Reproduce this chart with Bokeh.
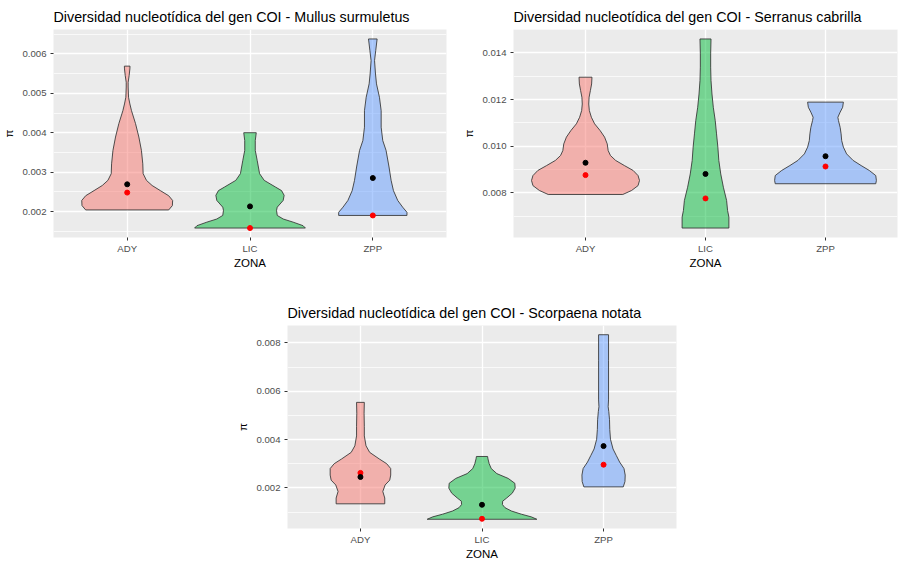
from bokeh.plotting import figure
from bokeh.layouts import column, row, Spacer
from bokeh.models import FixedTicker, Range1d, NumeralTickFormatter
from bokeh.embed import file_html
from bokeh.resources import INLINE

categories = ["ADY", "LIC", "ZPP"]

# ---- Mullus surmuletus ----
mullus_title = "Diversidad nucleotídica del gen COI - Mullus surmuletus"
mullus_ady_y = [0.00204, 0.00215, 0.00228, 0.0024, 0.00253, 0.00266, 0.00279, 0.00296, 0.00321, 0.00355,
                0.00389, 0.00423, 0.00456, 0.00473, 0.0049, 0.00516, 0.00528, 0.00545, 0.00562, 0.00569]
mullus_ady_w = [0.338, 0.368, 0.370, 0.338, 0.270, 0.203, 0.157, 0.130, 0.127, 0.116,
                0.095, 0.068, 0.035, 0.022, 0.011, 0.008, 0.008, 0.016, 0.022, 0.023]
mullus_lic_y = [0.00158, 0.00164, 0.00173, 0.00181, 0.0019, 0.00203, 0.00211, 0.00228, 0.00241, 0.00253,
                0.00262, 0.00279, 0.00296, 0.00329, 0.00355, 0.0038, 0.004]
mullus_lic_w = [0.451, 0.432, 0.351, 0.270, 0.222, 0.216, 0.222, 0.270, 0.278, 0.257,
                0.208, 0.116, 0.078, 0.059, 0.043, 0.043, 0.051]
mullus_zpp_y = [0.0019, 0.00198, 0.00211, 0.00228, 0.00253, 0.00279, 0.00313, 0.00355, 0.0038, 0.00414,
                0.00456, 0.0049, 0.00524, 0.00549, 0.00583, 0.00609, 0.00638]
mullus_zpp_w = [0.278, 0.278, 0.243, 0.203, 0.168, 0.149, 0.132, 0.108, 0.081, 0.068,
                0.068, 0.054, 0.030, 0.022, 0.014, 0.024, 0.035]
mullus_mean = [0.00269, 0.00213, 0.00285]
mullus_median = [0.00248, 0.00158, 0.0019]
mullus_ticks = [0.002, 0.003, 0.004, 0.005, 0.006]

# ---- Serranus cabrilla ----
serranus_title = "Diversidad nucleotídica del gen COI - Serranus cabrilla"
serranus_ady_y = [0.00793, 0.0081, 0.00831, 0.00853, 0.00874, 0.00896, 0.00917, 0.00939, 0.0096, 0.00981,
                  0.0101, 0.01039, 0.01067, 0.01096, 0.01124, 0.01153, 0.01181, 0.0121, 0.01239, 0.01267, 0.01296]
serranus_ady_w = [0.311, 0.384, 0.438, 0.450, 0.438, 0.397, 0.324, 0.251, 0.208, 0.189,
                  0.181, 0.159, 0.122, 0.076, 0.049, 0.032, 0.027, 0.030, 0.041, 0.051, 0.054]
serranus_lic_y = [0.00649, 0.00696, 0.00724, 0.00767, 0.00824, 0.00881, 0.00939, 0.00996, 0.01053, 0.0111,
                  0.01167, 0.01224, 0.01281, 0.01339, 0.01396, 0.0146]
serranus_lic_w = [0.195, 0.195, 0.184, 0.176, 0.149, 0.127, 0.111, 0.103, 0.092, 0.081,
                  0.065, 0.054, 0.046, 0.043, 0.043, 0.046]
serranus_zpp_y = [0.00839, 0.00853, 0.00874, 0.00896, 0.00917, 0.00939, 0.00967, 0.00996, 0.01024, 0.01053,
                  0.01081, 0.0111, 0.01124, 0.01146, 0.01167, 0.01189]
serranus_zpp_w = [0.419, 0.424, 0.419, 0.365, 0.297, 0.230, 0.176, 0.149, 0.135, 0.130,
                  0.122, 0.108, 0.103, 0.122, 0.143, 0.149]
serranus_mean = [0.00929, 0.00881, 0.00957]
serranus_median = [0.00876, 0.00776, 0.00913]
serranus_ticks = [0.008, 0.010, 0.012, 0.014]

# ---- Scorpaena notata ----
scorpaena_title = "Diversidad nucleotídica del gen COI - Scorpaena notata"
scorpaena_ady_y = [0.00134, 0.00158, 0.00185, 0.00212, 0.00232, 0.00253, 0.0028, 0.003, 0.0032, 0.00347,
                   0.00374, 0.00415, 0.00455, 0.00509, 0.00554]
scorpaena_ady_w = [0.200, 0.200, 0.184, 0.203, 0.241, 0.249, 0.249, 0.216, 0.154, 0.076,
                   0.046, 0.032, 0.032, 0.030, 0.032]
scorpaena_lic_y = [0.0007, 0.0008, 0.00091, 0.00104, 0.00118, 0.00131, 0.00145, 0.00158, 0.00178, 0.00199,
                   0.00219, 0.00239, 0.00259, 0.0028, 0.003, 0.0032, 0.0033]
scorpaena_lic_w = [0.451, 0.405, 0.324, 0.243, 0.189, 0.168, 0.170, 0.203, 0.249, 0.273,
                   0.270, 0.216, 0.122, 0.076, 0.059, 0.049, 0.046]
scorpaena_zpp_y = [0.00204, 0.00226, 0.00253, 0.0028, 0.00307, 0.00334, 0.00361, 0.00401, 0.00442, 0.00482,
                   0.00516, 0.00536, 0.00564, 0.00726, 0.00834]
scorpaena_zpp_w = [0.162, 0.176, 0.178, 0.168, 0.132, 0.105, 0.078, 0.057, 0.051, 0.049,
                   0.043, 0.038, 0.041, 0.041, 0.041]
scorpaena_mean = [0.00245, 0.0013, 0.00373]
scorpaena_median = [0.00262, 0.00072, 0.00296]
scorpaena_ticks = [0.002, 0.004, 0.006, 0.008]

FILLS = ["#F8766D", "#00BA38", "#619CFF"]
FONT = "Liberation Sans"


def make_panel(title, profiles, means, medians, ticks, width, height,
               mb_left, mb_right, mb_top, mb_bottom):
    all_y = [v for ys, _ in profiles for v in ys]
    lo, hi = min(all_y), max(all_y)
    pad = (hi - lo) * 0.05
    p = figure(width=width, height=height, output_backend="svg", toolbar_location=None,
               x_range=Range1d(0.4, 3.6), y_range=Range1d(lo - pad, hi + pad),
               min_border_left=mb_left, min_border_right=mb_right,
               min_border_top=mb_top, min_border_bottom=mb_bottom)
    p.background_fill_color = "#EBEBEB"
    p.border_fill_color = "white"
    p.outline_line_color = None

    step = ticks[1] - ticks[0]
    minors = [ticks[0] - step / 2 + i * step for i in range(len(ticks) + 1)]
    p.yaxis.ticker = FixedTicker(ticks=ticks, minor_ticks=minors)
    p.xaxis.ticker = FixedTicker(ticks=[1, 2, 3])
    p.xaxis.major_label_overrides = {i + 1: c for i, c in enumerate(categories)}
    p.yaxis.formatter = NumeralTickFormatter(format="0.000")

    p.xgrid.grid_line_color = "white"
    p.xgrid.grid_line_width = 1.3
    p.ygrid.grid_line_color = "white"
    p.ygrid.grid_line_width = 1.3
    p.ygrid.minor_grid_line_color = "white"
    p.ygrid.minor_grid_line_width = 0.7

    for ax in (p.xaxis, p.yaxis):
        ax.axis_line_color = None
        ax.major_tick_line_color = "#333333"
        ax.major_tick_out = 3
        ax.major_tick_in = 0
        ax.minor_tick_line_color = None
        ax.major_label_text_color = "#4D4D4D"
        ax.major_label_text_font = FONT
        ax.major_label_text_font_size = "9.6px"
        ax.major_label_standoff = 3
        ax.axis_label_text_font = FONT
        ax.axis_label_text_font_size = "11.5px"
        ax.axis_label_text_font_style = "normal"
        ax.axis_label_text_color = "black"
    p.xaxis.axis_label = "ZONA"
    p.xaxis.major_label_standoff = 2
    p.xaxis.axis_label_standoff = 0
    p.yaxis.axis_label = "π"
    p.yaxis.axis_label_standoff = 4

    p.title.text = title
    p.title.text_font = FONT
    p.title.text_font_size = "14.3px"
    p.title.text_font_style = "normal"
    p.title.text_color = "black"
    p.title.align = "left"
    p.title.standoff = 10

    xs, ys = [], []
    for i, (vy, vw) in enumerate(profiles):
        c = i + 1
        xs.append([c + w for w in vw] + [c - w for w in reversed(vw)])
        ys.append(list(vy) + list(reversed(vy)))
    p.patches(xs, ys, fill_color=FILLS, fill_alpha=0.5,
              line_color="#333333", line_alpha=0.85, line_width=1)

    xc = [1, 2, 3]
    p.scatter(xc, medians, size=5, color="red")
    p.scatter(xc, means, size=5, color="black")
    return p


p1 = make_panel(mullus_title,
                [(mullus_ady_y, mullus_ady_w), (mullus_lic_y, mullus_lic_w), (mullus_zpp_y, mullus_zpp_w)],
                mullus_mean, mullus_median, mullus_ticks,
                width=450, height=272, mb_left=49, mb_right=4, mb_top=29, mb_bottom=35)
p2 = make_panel(serranus_title,
                [(serranus_ady_y, serranus_ady_w), (serranus_lic_y, serranus_lic_w), (serranus_zpp_y, serranus_zpp_w)],
                serranus_mean, serranus_median, serranus_ticks,
                width=451, height=272, mb_left=63, mb_right=4, mb_top=29, mb_bottom=35)
p3 = make_panel(scorpaena_title,
                [(scorpaena_ady_y, scorpaena_ady_w), (scorpaena_lic_y, scorpaena_lic_w), (scorpaena_zpp_y, scorpaena_zpp_w)],
                scorpaena_mean, scorpaena_median, scorpaena_ticks,
                width=446, height=290, mb_left=49, mb_right=4, mb_top=53, mb_bottom=31)

layout = column(row(p1, p2), row(Spacer(width=234, height=290), p3))

open("out.html", "w").write(file_html(layout, INLINE))
